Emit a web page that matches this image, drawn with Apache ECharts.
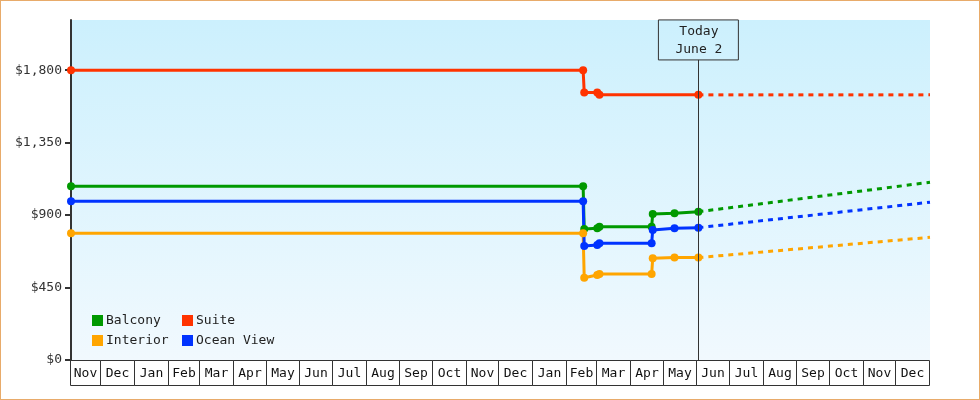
<!DOCTYPE html>
<html>
<head>
<meta charset="utf-8">
<script src="https://cdn.jsdelivr.net/npm/echarts@6/dist/echarts.min.js"></script>
<style>
html, body { margin: 0; padding: 0; background: #fff; }
#chart { width: 978px; height: 398px; border: 1px solid #e8ab6a; }
</style>
</head>
<body>
<div id="chart"></div>
<script>
// price history (solid)
var priceDates = ['2023-11-03', '2025-02-16', '2025-02-17', '2025-03-01', '2025-03-03', '2025-04-20', '2025-04-21', '2025-05-11', '2025-06-02'];
var balcony   = [1079, 1079, 814, 818, 828, 828, 907, 911, 921];
var oceanView = [986, 986, 708, 715, 725, 725, 808, 818, 822];
var interior  = [787, 787, 511, 528, 534, 534, 632, 636, 636];
var suiteDates = ['2023-11-03', '2025-02-16', '2025-02-17', '2025-03-01', '2025-03-03', '2025-06-02'];
var suite      = [1800, 1800, 1662, 1661, 1647, 1647];

// forecast (dashed)
var forecastDates = ['2025-06-02', '2026-01-01'];
var balconyForecast   = [921, 1104];
var suiteForecast     = [1647, 1647];
var interiorForecast  = [636, 762];
var oceanViewForecast = [822, 980];

var today = '2025-06-02';
var yTicks = [0, 450, 900, 1350, 1800];

var monthBounds = ['2023-11-03', '2023-12-01', '2024-01-01', '2024-02-01', '2024-03-01', '2024-04-01', '2024-05-01',
    '2024-06-01', '2024-07-01', '2024-08-01', '2024-09-01', '2024-10-01', '2024-11-01', '2024-12-01',
    '2025-01-01', '2025-02-01', '2025-03-01', '2025-04-01', '2025-05-01', '2025-06-01', '2025-07-01',
    '2025-08-01', '2025-09-01', '2025-10-01', '2025-11-01', '2025-12-01', '2026-01-01'];
var monthLabels = ['Nov', 'Dec', 'Jan', 'Feb', 'Mar', 'Apr', 'May', 'Jun', 'Jul', 'Aug', 'Sep', 'Oct', 'Nov', 'Dec',
    'Jan', 'Feb', 'Mar', 'Apr', 'May', 'Jun', 'Jul', 'Aug', 'Sep', 'Oct', 'Nov', 'Dec'];

var FONT = '"DejaVu Sans Mono", monospace';
var colors = { 'Balcony': '#009900', 'Suite': '#ff3300', 'Interior': '#ffa500', 'Ocean View': '#0033ff' };

function pairs(dates, vals) {
    return dates.map(function (d, i) { return [d, vals[i]]; });
}

function solid(name, dates, vals) {
    return {
        name: name, type: 'line', data: pairs(dates, vals),
        color: colors[name], clip: false, z: 3,
        symbol: 'circle', symbolSize: 8, showSymbol: true,
        lineStyle: { width: 3, color: colors[name] },
        itemStyle: { color: colors[name] }
    };
}

function dashed(name, vals) {
    return {
        name: name, type: 'line', data: pairs(forecastDates, vals),
        color: colors[name], clip: false, z: 2,
        symbol: 'none',
        lineStyle: { width: 3, color: colors[name], type: [5, 5] }
    };
}

var suiteDash = dashed('Suite', suiteForecast);
suiteDash.markLine = {
    silent: true, symbol: 'none', animation: false,
    lineStyle: { color: '#333', width: 1, type: 'solid' },
    label: {
        show: true, position: 'end', distance: 0,
        formatter: 'Today\nJune 2',
        fontFamily: FONT, fontSize: 13, color: '#222', lineHeight: 18,
        borderColor: '#333', borderWidth: 1, padding: [3, 16, 1, 17]
    },
    data: [[{ coord: [today, 0] }, { coord: [today, 1864] }]]
};

var monthData = monthLabels.map(function (m, i) { return [monthBounds[i], monthBounds[i + 1]]; });

var chart = echarts.init(document.getElementById('chart'));
chart.setOption({
    animation: false,
    grid: {
        left: 70, right: 49, top: 19, bottom: 39,
        show: true, borderWidth: 0,
        backgroundColor: {
            type: 'linear', x: 0, y: 0, x2: 0, y2: 1,
            colorStops: [{ offset: 0, color: '#ccf0fd' }, { offset: 1, color: '#f1f9fe' }]
        }
    },
    legend: [{
        orient: 'vertical', left: 91, top: 313, padding: 0,
        itemWidth: 11, itemHeight: 11, itemGap: 7, icon: 'rect',
        textStyle: { fontFamily: FONT, fontSize: 13, color: '#222', padding: [0, 0, 0, -2] },
        data: ['Balcony', 'Interior']
    }, {
        orient: 'vertical', left: 181, top: 313, padding: 0,
        itemWidth: 11, itemHeight: 11, itemGap: 7, icon: 'rect',
        textStyle: { fontFamily: FONT, fontSize: 13, color: '#222', padding: [0, 0, 0, -2] },
        data: ['Suite', 'Ocean View']
    }],
    xAxis: {
        type: 'time', min: '2023-11-03', max: '2026-01-01',
        axisLine: { show: false }, axisTick: { show: false },
        axisLabel: { show: false }, splitLine: { show: false }
    },
    yAxis: {
        type: 'value', min: 0, max: 2112, interval: 450,
        axisLine: { show: true, lineStyle: { color: '#333', width: 2 } },
        axisTick: { show: true, length: 6, lineStyle: { color: '#333', width: 2 }, customValues: yTicks },
        axisLabel: {
            customValues: yTicks, margin: 9,
            fontFamily: FONT, fontSize: 13, color: '#333',
            formatter: function (v) { return '$' + v.toLocaleString('en-US'); }
        },
        splitLine: { show: false }
    },
    series: [
        solid('Balcony', priceDates, balcony),
        solid('Suite', suiteDates, suite),
        solid('Interior', priceDates, interior),
        solid('Ocean View', priceDates, oceanView),
        dashed('Balcony', balconyForecast),
        suiteDash,
        dashed('Interior', interiorForecast),
        dashed('Ocean View', oceanViewForecast),
        {
            type: 'custom', silent: true, clip: false, z: 5,
            dimensions: [{ name: 'start', type: 'time' }, { name: 'end', type: 'time' }],
            encode: { x: [0, 1] },
            data: monthData,
            renderItem: function (params, api) {
                var p1 = api.coord([api.value(0), 0]);
                var p2 = api.coord([api.value(1), 0]);
                var x1 = Math.round(p1[0]) - 0.5, x2 = Math.round(p2[0]) - 0.5, y0 = Math.round(p1[1]) + 0.5;
                return {
                    type: 'group',
                    children: [{
                        type: 'rect',
                        shape: { x: x1, y: y0, width: x2 - x1, height: 25 },
                        style: { fill: 'none', stroke: '#333', lineWidth: 1 }
                    }, {
                        type: 'text', x: (x1 + x2) / 2, y: y0 + 13,
                        style: {
                            text: monthLabels[params.dataIndex], font: '13px ' + FONT,
                            fill: '#111', align: 'center', verticalAlign: 'middle'
                        }
                    }]
                };
            }
        }
    ]
});
</script>
</body>
</html>
